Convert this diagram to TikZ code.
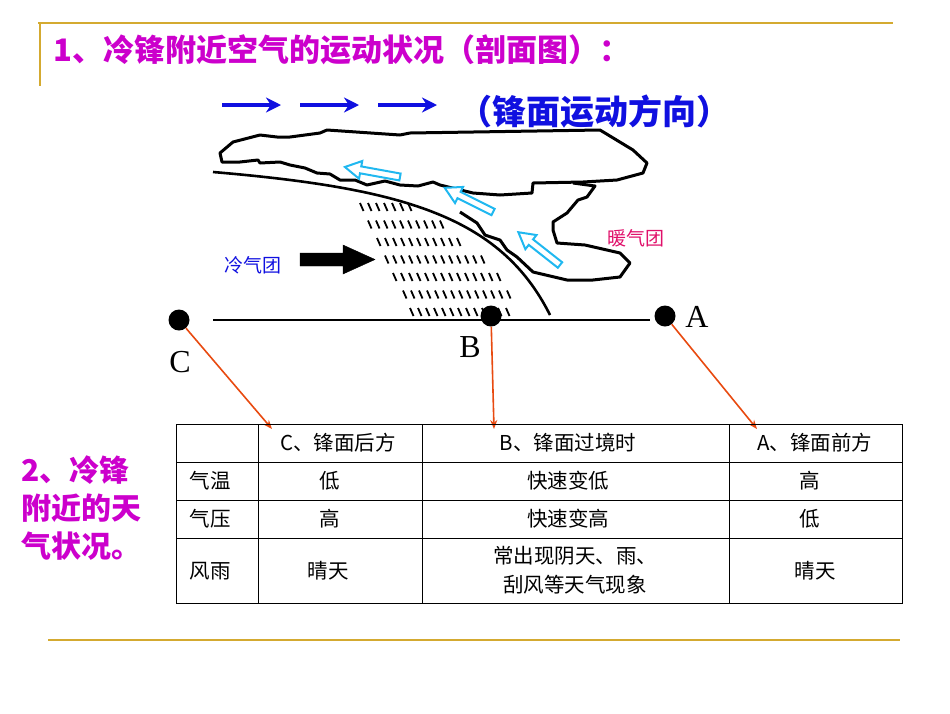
\documentclass[tikz,border=0pt]{standalone}
\usepackage{fontspec}
\setmainfont{Liberation Serif}
\newfontfamily\cjk{Noto Sans CJK SC}
\usetikzlibrary{arrows.meta}
\definecolor{gold}{HTML}{D4AA30}
\definecolor{mag}{HTML}{CC00CC}
\definecolor{dblue}{HTML}{1010E0}
\definecolor{pink}{HTML}{E0106A}
\definecolor{sky}{HTML}{20B8F0}
\definecolor{ored}{HTML}{E84A10}
\begin{document}
\begin{tikzpicture}[x=1pt,y=-1pt,
  goldline/.style={gold,line width=1.5pt},
  outline/.style={line width=3pt,line join=round},
  pics/hollowarr/.style={code={\draw[sky,line width=2pt,line join=miter,fill=white] (0,-3.5) -- (#1-16,-3.5) -- (#1-16,-9) -- (#1,0) -- (#1-16,9) -- (#1-16,3.5) -- (0,3.5) -- cycle;}},
  pointer/.style={ored,line width=1.6pt,-{Stealth[length=9pt,width=7pt]}},
  dir/.style={dblue,line width=3.5pt,-{Stealth[length=15pt,width=15pt]}},
  dot/.style={circle,fill=black,minimum size=21pt,inner sep=0pt},
  cell/.style={font=\cjk\fontsize{20.5}{24}\selectfont,align=center},
  grid/.style={line width=0.9pt}]
\useasboundingbox (0,0) rectangle (950,713);
\draw[goldline] (38,23) -- (893,23);
\draw[goldline] (40,23) -- (40,86);
\draw[goldline] (48,640) -- (900,640);
\node[anchor=west,mag,font=\cjk\bfseries\fontsize{31}{33}\selectfont] (t1) at (50,50) {1、冷锋附近空气的运动状况（剖面图）：};
% direction arrows
\coordinate (d1a) at (222,105); \coordinate (d1b) at (281,105);
\coordinate (d2a) at (300,105); \coordinate (d2b) at (359,105);
\coordinate (d3a) at (378,105); \coordinate (d3b) at (437,105);
\draw[dir] (d1a) -- (d1b); \draw[dir] (d2a) -- (d2b); \draw[dir] (d3a) -- (d3b);
\node[anchor=west,dblue,font=\cjk\bfseries\fontsize{34}{36}\selectfont] (dirl) at (455,112) {（锋面运动方向）};
% upper cloud
\draw[outline] (222,162) -- (220,153) -- (233,142) -- (260,135) -- (277,137) -- (290,137) -- (320,133) -- (327,130) -- (400,135) -- (410,133) -- (600,130) -- (633,150) -- (647,163) -- (643,173) -- (617,180) -- (583,182) -- (533,183) -- (532,193) -- (500,195) -- (473,193)
  -- (440,185) -- (433,182) -- (418,186) -- (400,185) -- (385,181) -- (367,185) -- (355,180) -- (340,180) -- (330,174) -- (317,173) -- (305,168) -- (290,165) -- (280,162) -- (260,163) -- (258,160) -- (240,162) -- cycle;
% lower warm cloud
\draw[outline] (573,183) -- (595,186) -- (587,197) -- (578,200) -- (567,213) -- (553,222) -- (553,230) -- (557,243) -- (585,245) -- (620,253) -- (630,263) -- (620,277) -- (593,280) -- (567,280) -- (533,272) -- (517,257) -- (507,250) -- (500,240) -- (485,235) -- (477,223) -- (460,212);
% front
\draw[line width=2.6pt] (213,172) .. controls (400,188) and (500,215) .. (550,315);
% rain
\foreach \i/\xs/\xe in {0/360/415,1/368/440,2/377/463,3/385/483,4/393/500,5/403/513,6/410/508}{
  \pgfmathsetmacro{\yy}{203+17.5*\i}
  \foreach \x in {\xs,\numexpr\xs+8\relax,...,\xe}{
    \draw[line width=1.8pt] (\x,\yy) -- ++(3.5,8);
  }
}
% hollow arrows
\pic[rotate=169.7] (h1) at (400,177) {hollowarr=56};
\pic[rotate=153.4] (h2) at (493,212) {hollowarr=54};
\pic[rotate=141.8] (h3) at (560,265) {hollowarr=53};
% cold arrow
\draw[fill=black] (300,253) -- (343,253) -- (343,245) -- (375,259.5) -- (343,274) -- (343,266) -- (300,266) -- cycle;
\node[dblue,font=\cjk\fontsize{19}{20}\selectfont] (cl) at (253,265) {冷气团};
\node[pink,font=\cjk\fontsize{19}{20}\selectfont] (wl) at (636,238) {暖气团};
% ground
\coordinate (g1) at (213,320); \coordinate (g2) at (650,320);
\draw[line width=2.6pt] (g1) -- (g2);
\node[dot] (C) at (179,320) {};
\node[dot] (B) at (491,316) {};
\node[dot] (A) at (665,316) {};
\node[font=\fontsize{32}{34}\selectfont] (Al) at (697,317) {A};
\node[font=\fontsize{32}{34}\selectfont] (Bl) at (470,347) {B};
\node[font=\fontsize{32}{34}\selectfont] (Cl) at (180,362) {C};
% table
\coordinate (tc) at (272,429); \coordinate (tb) at (494,429); \coordinate (ta) at (757,429);
\draw[pointer] (C) -- (tc);
\draw[pointer] (B) -- (tb);
\draw[pointer] (A) -- (ta);
\draw[grid] (176,424) rectangle (902,603);
\foreach \x in {258,422,729} \draw[grid] (\x,424) -- (\x,603);
\foreach \y in {462,500,538} \draw[grid] (176,\y) -- (902,\y);
\node[cell] (h2c) at (338,443) {C、锋面后方};
\node[cell] (h3c) at (568,443) {B、锋面过境时};
\node[cell] (h4c) at (815,443) {A、锋面前方};
\node[cell] (r1) at (210,481) {气温};
\node[cell] (r2) at (210,519) {气压};
\node[cell] (r3) at (210,571) {风雨};
\node[cell] (c11) at (330,481) {低};
\node[cell] (c12) at (568,481) {快速变低};
\node[cell] (c13) at (810,481) {高};
\node[cell] (c21) at (330,519) {高};
\node[cell] (c22) at (568,519) {快速变高};
\node[cell] (c23) at (810,519) {低};
\node[cell] (c31) at (328,571) {晴天};
\node[cell,font=\cjk\fontsize{20.5}{29}\selectfont] (c32) at (575,570) {常出现阴天、雨、\\刮风等天气现象};
\node[cell] (c33) at (815,571) {晴天};
\node[mag,font=\cjk\bfseries\fontsize{30}{38}\selectfont,align=left,anchor=north west] (t2) at (18,452) {2、冷锋\\附近的天\\气状况。};
\end{tikzpicture}
\end{document}
